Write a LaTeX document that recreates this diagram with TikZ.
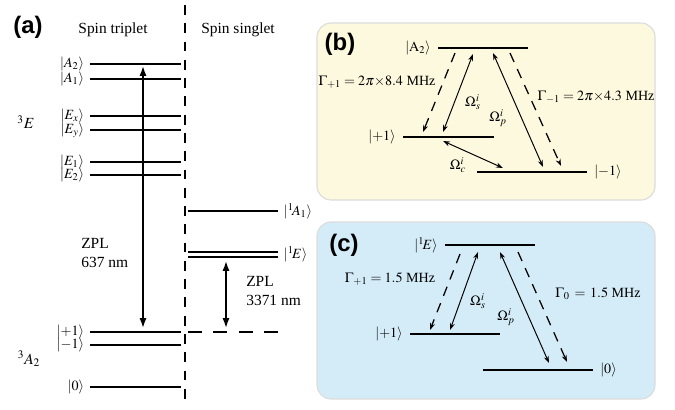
\documentclass[tikz,border=0pt]{standalone}
\usepackage{amsmath}
\usepackage{mathptmx}
\usepackage{fontspec}
\setmainfont{Liberation Serif}
\newfontfamily\tagfont{Liberation Sans}
\usetikzlibrary{arrows.meta,positioning}
\definecolor{bgyellow}{HTML}{FDF9DE}
\definecolor{bgblue}{HTML}{D4ECF8}
\definecolor{panelrim}{HTML}{DCDCDC}

\begin{document}
\begin{tikzpicture}[
  x=0.025cm,y=-0.025cm,
  level/.style={line width=1.4pt},
  state/.style={inner sep=1pt,font=\fontsize{10}{12}\selectfont},
  head/.style={inner sep=0pt,font=\fontsize{11}{13}\selectfont},
  tag/.style={inner sep=0pt,font=\tagfont\bfseries\fontsize{17}{20}\selectfont},
  divider/.style={line width=2pt,dash pattern=on 7pt off 6pt},
  zpl/.style={{Latex[length=7pt,width=5pt]}-{Latex[length=7pt,width=5pt]},line width=1.1pt},
  drive/.style={{Stealth[length=5pt,width=3.5pt]}-{Stealth[length=5pt,width=3.5pt]},line width=0.7pt},
  decay/.style={-{Stealth[length=5pt,width=3.5pt]},line width=0.9pt,dash pattern=on 7pt off 5.5pt},
  panel/.style={draw=panelrim,line width=0.8pt,rounded corners=10pt}
]
\useasboundingbox (0,0) rectangle (675,409);

% (a) level scheme
\node[tag] (tagA) at (28,27) {(a)};
\node[head] (trip) at (113,30) {Spin triplet};
\node[head] (sing) at (238,30) {Spin singlet};
\coordinate (divT) at (185,5);
\coordinate (divB) at (185,404);
\draw[divider] (divT) -- (divB);

\foreach \y/\n/\t in {64/A2/{$|A_2\rangle$},79/A1/{$|A_1\rangle$},116/Ex/{$|E_x\rangle$},130/Ey/{$|E_y\rangle$},162/E1/{$|E_1\rangle$},175/E2/{$|E_2\rangle$},332/p1/{$|{+}1\rangle$},345/m1/{$|{-}1\rangle$},387/z0/{$|0\rangle$}}{
  \coordinate (\n-l) at (90,\y);
  \coordinate (\n-r) at (181,\y);
  \draw[level] (\n-l) -- (\n-r);
  \node[state,left=3pt of \n-l] (\n-lab) {\t};
}
\node[head] (tE) at (26,122) {$^3E$};
\node[head] (tA) at (29,359) {$^3A_2$};

\coordinate (zplU) at (143,66);
\coordinate (zplD) at (143,328);
\draw[zpl] (zplU) -- (zplD);
\node[head,align=left,anchor=west] (zplA) at (81,253) {ZPL\\637 nm};

\coordinate (sA-l) at (188,211);
\coordinate (sA-r) at (278,211);
\draw[level] (sA-l) -- (sA-r);
\node[state,right=3pt of sA-r] (sA-lab) {$|^1\!A_1\rangle$};
\coordinate (sE-l) at (188,252);
\coordinate (sE-r) at (278,252);
\draw[level] (sE-l) -- (sE-r);
\draw[level] ([yshift=-3.5pt]sE-l) -- ([yshift=-3.5pt]sE-r);
\node[state,right=3pt of sE-r,yshift=-1.7pt] (sE-lab) {$|^1\!E\rangle$};
\coordinate (gnd-l) at (188,332);
\coordinate (gnd-r) at (283,332);
\draw[line width=1pt,dash pattern=on 10pt off 8pt] (gnd-l) -- (gnd-r);
\coordinate (irU) at (226,261);
\coordinate (irD) at (226,328);
\draw[zpl] (irU) -- (irD);
\node[head,align=left,anchor=west] (zplB) at (246,291) {ZPL\\3371 nm};

% (b) Lambda system of the triplet
\draw[panel,fill=bgyellow] (317,23) rectangle (655,200);
\node[tag] (tagB) at (340,44) {(b)};
\coordinate (bA-l) at (438,48);
\coordinate (bA-r) at (528,48);
\coordinate (bP-l) at (403,137);
\coordinate (bP-r) at (494,137);
\coordinate (bM-l) at (477,172);
\coordinate (bM-r) at (587,172);
\draw[level] (bA-l) -- (bA-r);
\draw[level] (bP-l) -- (bP-r);
\draw[level] (bM-l) -- (bM-r);
\node[state,left=4pt of bA-l] (bA-lab) {$|\mathrm{A}_2\rangle$};
\node[state,left=4pt of bP-l] (bP-lab) {$|{+}1\rangle$};
\node[state,right=4pt of bM-r] (bM-lab) {$|{-}1\rangle$};
\coordinate (bd1s) at (455,53);
\coordinate (bd1e) at (423,132);
\coordinate (bs1) at (473,54);
\coordinate (bs2) at (443,132);
\coordinate (bp1) at (493,53);
\coordinate (bp2) at (543,167);
\coordinate (bd2s) at (510,53);
\coordinate (bd2e) at (561,166);
\coordinate (bc1) at (443,141);
\coordinate (bc2) at (503,168);
\draw[decay] (bd1s) -- (bd1e);
\draw[drive] (bs1) -- (bs2);
\draw[drive] (bp1) -- (bp2);
\draw[decay] (bd2s) -- (bd2e);
\draw[drive] (bc1) -- (bc2);
\node[state] (bG1) at (377,82) {$\Gamma_{+1} = 2\pi{\times}8.4$ MHz};
\node[state] (bG2) at (596,97) {$\Gamma_{-1} = 2\pi{\times}4.3$ MHz};
\node[state] (bOs) at (473,102) {$\Omega_s^i$};
\node[state] (bOp) at (498,118) {$\Omega_p^i$};
\node[state] (bOc) at (458,165) {$\Omega_c^i$};

% (c) Lambda system of the singlet
\draw[panel,fill=bgblue] (317,222) rectangle (655,399);
\node[tag] (tagC) at (344,245) {(c)};
\coordinate (cE-l) at (445,245);
\coordinate (cE-r) at (535,245);
\coordinate (cP-l) at (410,334);
\coordinate (cP-r) at (500,334);
\coordinate (cZ-l) at (483,370);
\coordinate (cZ-r) at (593,370);
\draw[level] (cE-l) -- (cE-r);
\draw[level] (cP-l) -- (cP-r);
\draw[level] (cZ-l) -- (cZ-r);
\node[state,left=4pt of cE-l] (cE-lab) {$|^1\!E\rangle$};
\node[state,left=4pt of cP-l] (cP-lab) {$|{+}1\rangle$};
\node[state,right=4pt of cZ-r] (cZ-lab) {$|0\rangle$};
\coordinate (cd1s) at (460,254);
\coordinate (cd1e) at (430,330);
\coordinate (cs1) at (478,252);
\coordinate (cs2) at (450,330);
\coordinate (cp1) at (500,252);
\coordinate (cp2) at (549,363);
\coordinate (cd2s) at (518,252);
\coordinate (cd2e) at (567,362);
\draw[decay] (cd1s) -- (cd1e);
\draw[drive] (cs1) -- (cs2);
\draw[drive] (cp1) -- (cp2);
\draw[decay] (cd2s) -- (cd2e);
\node[state] (cG1) at (390,279) {$\Gamma_{+1} = 1.5$ MHz};
\node[state] (cG2) at (598,294) {$\Gamma_0\,=\,1.5$ MHz};
\node[state] (cOs) at (478,301) {$\Omega_s^i$};
\node[state] (cOp) at (506,317) {$\Omega_p^i$};
\end{tikzpicture}
\end{document}
